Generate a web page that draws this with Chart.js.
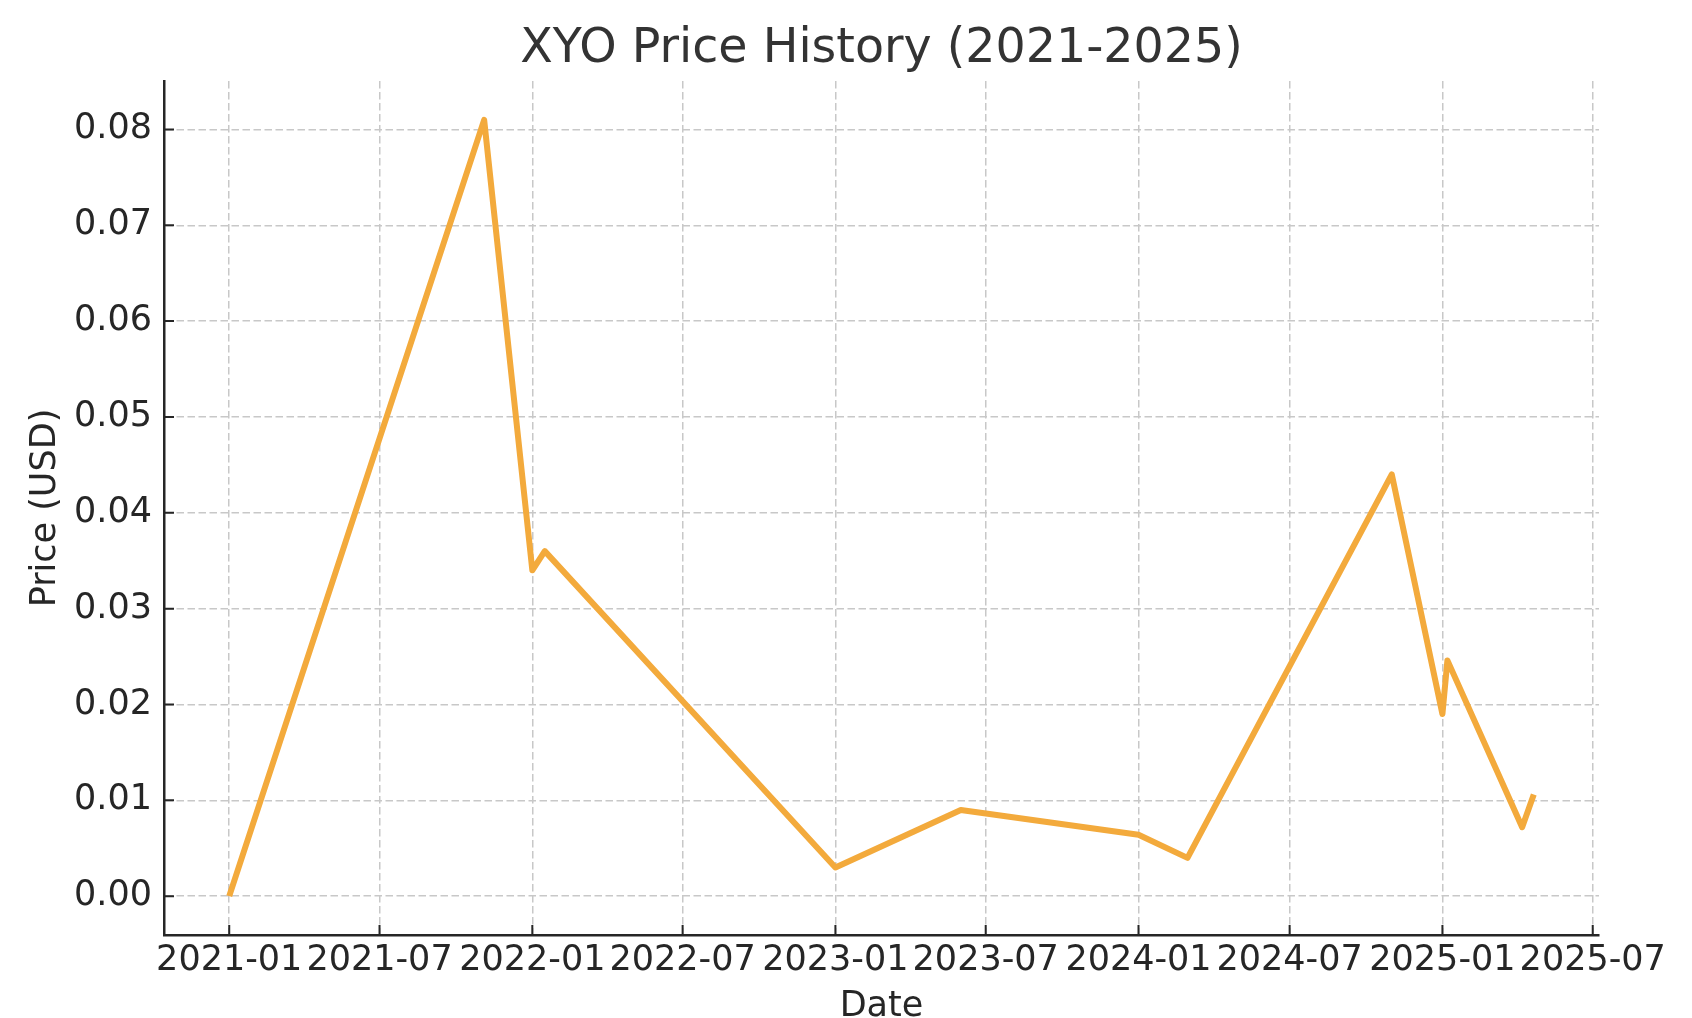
<!DOCTYPE html>
<html>
<head>
<meta charset="utf-8">
<title>XYO Price History</title>
<script src="https://cdn.jsdelivr.net/npm/chart.js@4.4.1/dist/chart.umd.min.js"></script>
<style>
  html, body { margin: 0; padding: 0; background: #fff; }
  #price-chart { display: block; }
</style>
</head>
<body>
<canvas id="price-chart" width="1692" height="1018"></canvas>
<script>
// Values
const dates = [
    '2021-01-01', '2021-11-04', '2022-01-01', '2022-01-16', '2023-01-01',
    '2023-06-01', '2024-01-01', '2024-02-29', '2024-11-01', '2025-01-01',
    '2025-01-07', '2025-04-07', '2025-04-21'
];
const prices = [
    0.0, 0.081, 0.034, 0.036, 0.003,
    0.009, 0.0064, 0.004, 0.044, 0.019,
    0.0246, 0.0072, 0.0106
];
const tickLabels = [
    '2021-01', '2021-07', '2022-01', '2022-07', '2023-01',
    '2023-07', '2024-01', '2024-07', '2025-01', '2025-07'
];
const priceTicks = [0, 0.01, 0.02, 0.03, 0.04, 0.05, 0.06, 0.07, 0.08];

const INK = '#262626';

// 'YYYY-MM' or 'YYYY-MM-DD' -> ms
function toTime(s) {
    const p = s.split('-').map(Number);
    return Date.UTC(p[0], p[1] - 1, p[2] || 1);
}

const dateTicks = tickLabels.map(toTime);
const points = dates.map((d, i) => ({ x: toTime(d), y: prices[i] }));

// same 5% margins matplotlib puts round the data
const times = points.map(p => p.x);
const tSpan = Math.max(...times) - Math.min(...times);
const xMin = Math.min(...times) - tSpan * 0.05;
const xMax = Math.max(...times) + tSpan * 0.05;
const pSpan = Math.max(...prices) - Math.min(...prices);
const yMin = Math.min(...prices) - pSpan * 0.05;
const yMax = Math.max(...prices) + pSpan * 0.05;

// ticks in the reference point into the plot
const inwardTicks = {
    id: 'inwardTicks',
    afterDraw(chart) {
        const { ctx, chartArea, scales } = chart;
        ctx.save();
        ctx.strokeStyle = INK;
        ctx.lineWidth = 2;
        ctx.beginPath();
        scales.x.ticks.forEach(t => {
            const px = scales.x.getPixelForValue(t.value);
            ctx.moveTo(px, chartArea.bottom);
            ctx.lineTo(px, chartArea.bottom - 10);
        });
        scales.y.ticks.forEach(t => {
            const py = scales.y.getPixelForValue(t.value);
            ctx.moveTo(chartArea.left, py);
            ctx.lineTo(chartArea.left + 10, py);
        });
        ctx.stroke();
        ctx.restore();
    }
};

const gridOpts = {
    color: '#c8c8c8',
    lineWidth: 1.5,
    drawTicks: false
};
const borderOpts = {
    display: true,
    color: INK,
    width: 2.5,
    dash: [7.5, 3.5]
};

new Chart(document.getElementById('price-chart'), {
    type: 'line',
    data: {
        datasets: [{
            label: 'XYO',
            data: points,
            borderColor: '#f3aa3c',
            borderWidth: 6,
            borderJoinStyle: 'round',
            borderCapStyle: 'butt',
            pointRadius: 0,
            tension: 0,
            fill: false
        }]
    },
    options: {
        responsive: false,
        animation: false,
        layout: { padding: { left: 0, right: 93, top: 0, bottom: 0 } },
        plugins: {
            legend: { display: false },
            tooltip: { enabled: false },
            title: {
                display: true,
                text: 'XYO Price History (2021-2025)',
                fullSize: false,
                color: '#333333',
                font: { family: 'DejaVu Sans', size: 47.5, weight: 'normal', lineHeight: 1.2 },
                padding: { top: 21, bottom: 3 }
            }
        },
        scales: {
            x: {
                type: 'linear',
                min: xMin,
                max: xMax,
                grid: gridOpts,
                border: borderOpts,
                afterBuildTicks: scale => {
                    scale.ticks = dateTicks.map(v => ({ value: v }));
                },
                afterFit: scale => { scale.height = 83; },
                ticks: {
                    autoSkip: false,
                    maxRotation: 0,
                    minRotation: 0,
                    padding: 8,
                    color: INK,
                    font: { family: 'DejaVu Sans', size: 35, lineHeight: 1 },
                    callback: v => tickLabels[dateTicks.indexOf(v)]
                },
                title: {
                    display: true,
                    text: 'Date',
                    color: INK,
                    font: { family: 'DejaVu Sans', size: 35, lineHeight: 1 },
                    padding: { top: 0, bottom: -6 }
                }
            },
            y: {
                type: 'linear',
                min: yMin,
                max: yMax,
                grid: gridOpts,
                border: borderOpts,
                afterBuildTicks: scale => {
                    scale.ticks = priceTicks.map(v => ({ value: v }));
                },
                afterFit: scale => { scale.width = 164; },
                ticks: {
                    padding: 12,
                    color: INK,
                    font: { family: 'DejaVu Sans', size: 35, lineHeight: 1 },
                    callback: v => v.toFixed(2)
                },
                title: {
                    display: true,
                    text: 'Price (USD)',
                    color: INK,
                    font: { family: 'DejaVu Sans', size: 35, lineHeight: 1 },
                    padding: { top: 28, bottom: 0 }
                }
            }
        }
    },
    plugins: [inwardTicks]
});
</script>
</body>
</html>
